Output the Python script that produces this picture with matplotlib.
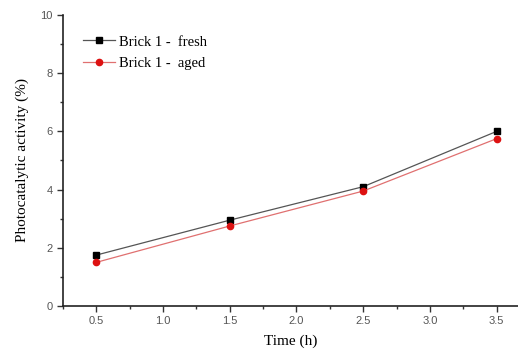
import matplotlib
matplotlib.use('Agg')
import matplotlib.pyplot as plt
from matplotlib.ticker import MultipleLocator

# Data
time_h = [0.5, 1.5, 2.5, 3.5]
fresh = [1.75, 2.95, 4.1, 6.0]
aged = [1.5, 2.75, 3.95, 5.75]

fig = plt.figure(figsize=(5.18, 3.56), dpi=100)
ax = fig.add_axes([0.1216, 0.1404, 0.8784, 0.8176])

ax.plot(time_h, fresh, color='#555555', lw=0.9, marker='s', ms=4.5,
        mfc='black', mec='black', label='Brick 1 -  fresh')
ax.plot(time_h, aged, color='#e07070', lw=0.9, marker='o', ms=4.5,
        mfc='#dd1111', mec='#dd1111', label='Brick 1 -  aged')

ax.set_xlim(0.25, 3.66)
ax.set_ylim(0, 10)
ax.xaxis.set_major_locator(MultipleLocator(0.5))
ax.xaxis.set_minor_locator(MultipleLocator(0.25))
ax.yaxis.set_major_locator(MultipleLocator(2))
ax.yaxis.set_minor_locator(MultipleLocator(1))

ax.spines['top'].set_visible(False)
ax.spines['right'].set_visible(False)
for s in ('left', 'bottom'):
    ax.spines[s].set_linewidth(1.2)
    ax.spines[s].set_color('#222222')

ax.tick_params(which='major', direction='out', length=4, width=1, colors='#333333',
               labelsize=8, labelcolor='#555555')
ax.tick_params(which='minor', direction='out', length=2.5, width=1, colors='#333333')
for lab in ax.get_xticklabels() + ax.get_yticklabels():
    lab.set_family('Liberation Sans')

ax.set_xlabel('Time (h)', family='Liberation Serif', fontsize=11, labelpad=6)
ax.set_ylabel('Photocatalytic activity (%)', family='Liberation Serif', fontsize=11,
              labelpad=8)

leg = ax.legend(loc='upper left', bbox_to_anchor=(0.015, 0.975), frameon=False,
                prop={'family': 'Liberation Serif', 'size': 10.5},
                handlelength=2.2, handletextpad=0.3, labelspacing=0.55)

fig.savefig('out.png', dpi=100)
